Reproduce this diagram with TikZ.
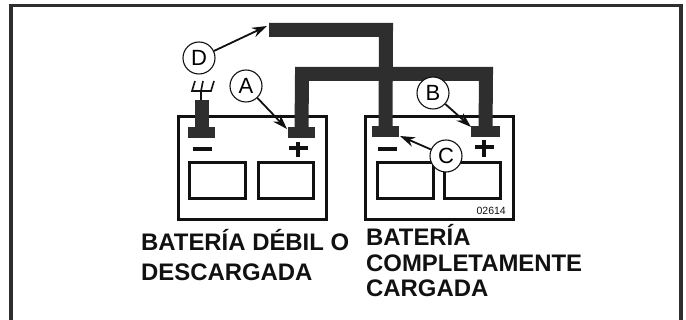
\documentclass[tikz,border=0pt]{standalone}
\usepackage{fontspec}
\setmainfont{Liberation Sans}
\usetikzlibrary{arrows.meta}
\definecolor{ink}{HTML}{111111}
\definecolor{cablegrey}{HTML}{2E2E2E}
\tikzset{
  frameline/.style={draw=cablegrey,line width=3.4pt},
  cell/.style={draw=ink,line width=3.4pt,rectangle,inner sep=0pt,anchor=north west},
  term/.style={fill=cablegrey,draw=none,rectangle,inner sep=0pt,minimum height=11pt,minimum width=27pt},
  cable/.style={draw=cablegrey,line width=14pt,line cap=butt,line join=miter},
  callout/.style={circle,draw=ink,fill=white,line width=1.1pt,minimum size=32pt,inner sep=0pt,font=\fontsize{22}{22}\selectfont},
  pointer/.style={draw=ink,line width=1.8pt,-{Stealth[length=15pt,width=10pt]},shorten >=0pt},
  sign/.style={draw=ink,line width=3.6pt},
  caption/.style={font=\fontsize{23.9}{23.9}\selectfont\bfseries,anchor=base west,inner sep=0pt,text=ink},
}
\begin{document}
\begin{tikzpicture}[x=1pt,y=-1pt]
\useasboundingbox (0,0) rectangle (686,320);
\fill[white] (0,0) rectangle (686,320);
\draw[frameline] (11,320) -- (11,5.5) -- (681,5.5) -- (681,320);

% batteries
\node[cell,minimum width=148pt,minimum height=103pt] (batL) at (176.5,115) {};
\node[cell,minimum width=148pt,minimum height=103pt] (batR) at (363.5,115) {};
\node[cell,minimum width=56pt,minimum height=36pt] (cellLa) at (188,161) {};
\node[cell,minimum width=55pt,minimum height=36pt] (cellLb) at (257,161) {};
\node[cell,minimum width=56pt,minimum height=36pt] (cellRa) at (375.5,161) {};
\node[cell,minimum width=56pt,minimum height=36pt] (cellRb) at (443,161) {};

% terminals
\node[term] (tLm) at (201.5,132.5) {};
\node[term] (tLp) at (301.5,132.5) {};
\node[term] (tRm) at (385.5,131.5) {};
\node[term,minimum width=29pt] (tRp) at (485.5,132) {};

% cables
\coordinate (free) at (269,30);
\coordinate (jumpA) at (386,30);
\coordinate (jumpB) at (302,74);
\coordinate (jumpC) at (486,74);
\coordinate (postTop) at (201.5,100);
\draw[cable] (free) -- (jumpA) -- (tRm.center);
\draw[cable] (tLp.center) -- (jumpB) -- (jumpC) -- (tRp.center);
\draw[cable] (postTop) -- (tLm.center);

% clamp fork
\coordinate (forkBase) at (201,91);
\coordinate (forkTop) at (201,100);
\draw[ink,line width=1.6pt] (forkBase) -- (forkTop);
\draw[ink,line width=1.6pt] (195,81) -- (192,91) -- (211,91) -- (214,81);
\draw[ink,line width=1.6pt] (201,91) -- (203,81);

% signs
\draw[sign] (193,149) -- (212,149);
\draw[sign] (289,148) -- (308,148);
\draw[sign] (298,142) -- (298,157);
\draw[sign] (378,149) -- (397,149);
\draw[sign] (475,147) -- (494,147);
\draw[sign] (484,140) -- (484,157);

% callouts
\node[callout] (D) at (199,58) {D};
\node[callout] (A) at (246,86) {A};
\node[callout] (B) at (433,93) {B};
\coordinate (tipD) at (267,26);
\coordinate (tipA) at (287,129);
\coordinate (tipB) at (471,127);
\coordinate (tipC) at (400,136);
\draw[pointer] (D) -- (tipD);
\draw[pointer] (A) -- (tipA);
\draw[pointer] (B) -- (tipB);
\node[callout] (C) at (446,156) {C};
\draw[pointer] (C) -- (tipC);

% texts
\node[font=\fontsize{10.5}{10.5}\selectfont,anchor=base east,inner sep=0pt,text=ink] (code) at (506,215) {02614};
\node[caption] (capLa) at (141,251) {BATERÍA DÉBIL O};
\node[caption] (capLb) at (141,281) {DESCARGADA};
\node[caption] (capRa) at (366,246) {BATERÍA};
\node[caption] (capRb) at (366,272) {COMPLETAMENTE};
\node[caption] (capRc) at (366,297) {CARGADA};
\end{tikzpicture}
\end{document}
